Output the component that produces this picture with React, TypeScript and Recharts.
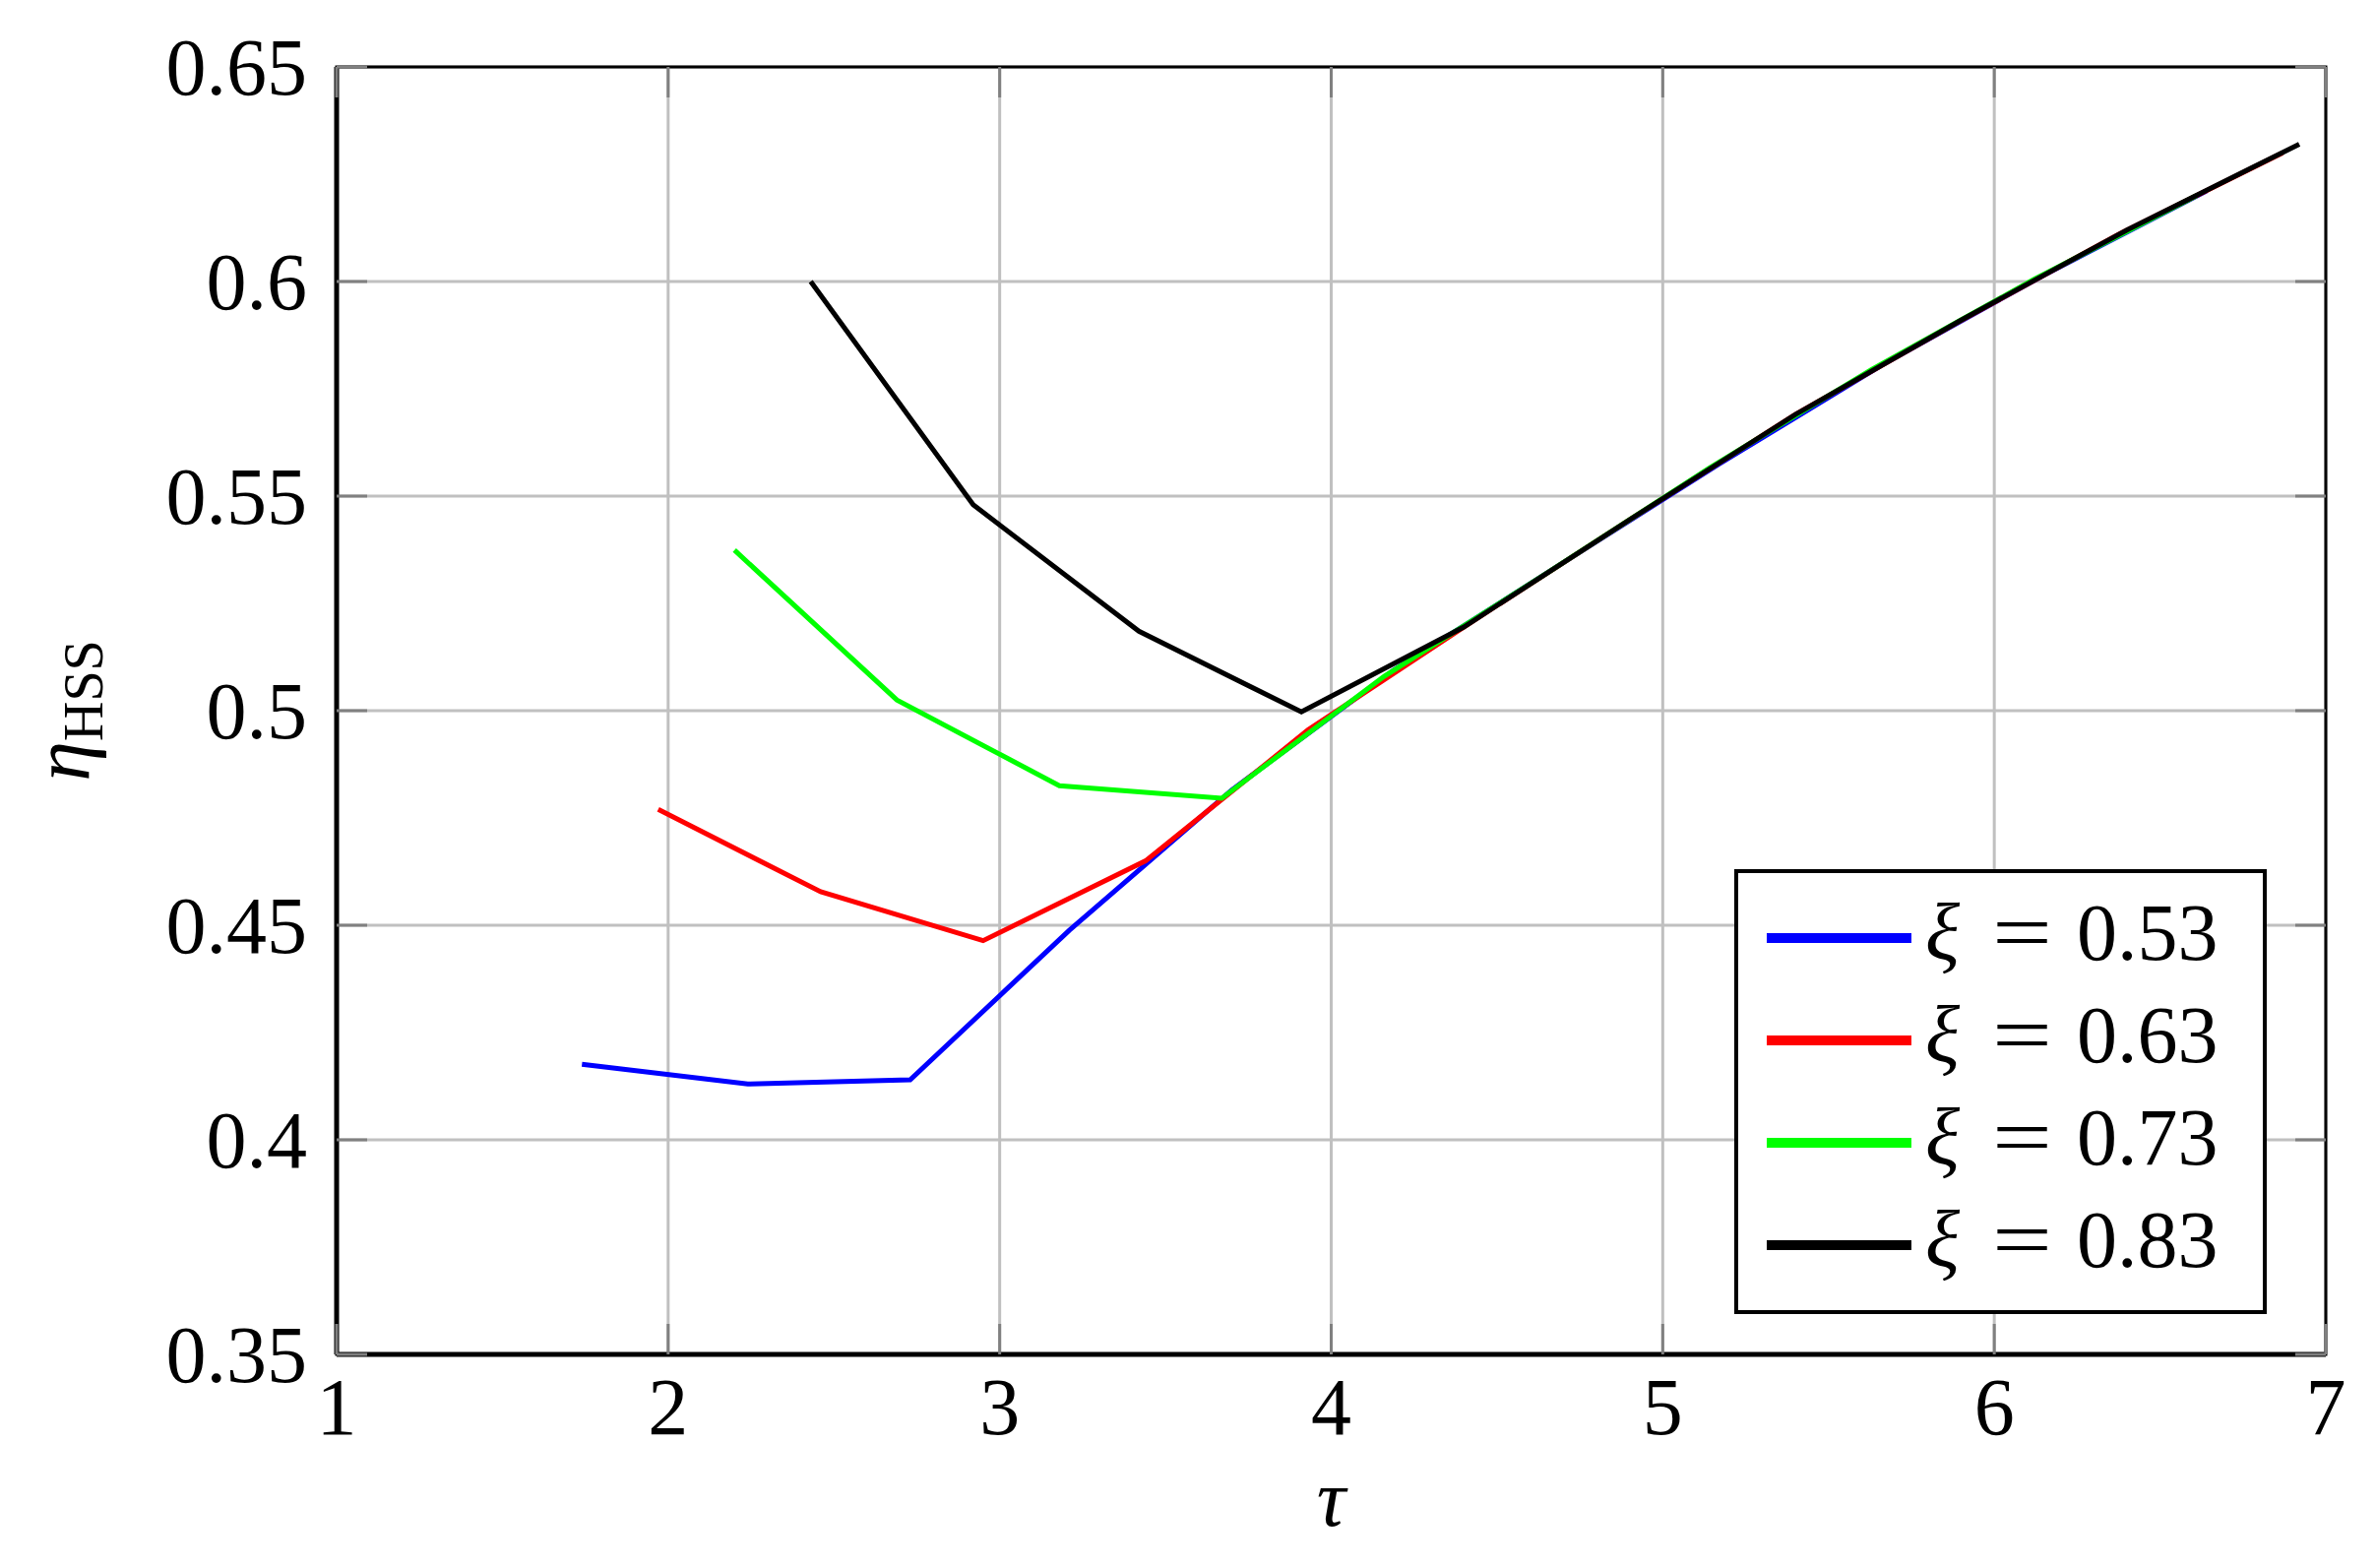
import React from 'react';
import { LineChart, Line, XAxis, YAxis, CartesianGrid, ReferenceArea, Legend } from 'recharts';

// tau (x) and eta_HSS (y), one pair of arrays per xi
const blueTau = [1.74, 2.24, 2.73, 3.21, 3.70, 4.19, 4.68, 5.17, 5.66, 6.15, 6.64];
const blueEta = [0.4176, 0.413, 0.414, 0.4488, 0.4815, 0.5095, 0.5335, 0.5575, 0.5805, 0.6015, 0.6211];

const redTau = [1.97, 2.46, 2.95, 3.44, 3.93, 4.42, 4.91, 5.40, 5.89, 6.38, 6.87];
const redEta = [0.477, 0.4578, 0.4464, 0.465, 0.4955, 0.5205, 0.545, 0.569, 0.5905, 0.6112, 0.6300];

const greenTau = [2.20, 2.69, 3.18, 3.67, 4.16, 4.65, 5.14, 5.63, 6.12, 6.61];
const greenEta = [0.5374, 0.5025, 0.4825, 0.4796, 0.508, 0.532, 0.5565, 0.5795, 0.6005, 0.6200];

const blackTau = [2.43, 2.92, 3.42, 3.91, 4.40, 4.90, 5.40, 5.90, 6.40, 6.92];
const blackEta = [0.6, 0.548, 0.5185, 0.4997, 0.5195, 0.5445, 0.569, 0.591, 0.612, 0.632];

const xTicks = [1, 2, 3, 4, 5, 6, 7];
const yTicks = [0.35, 0.4, 0.45, 0.5, 0.55, 0.6, 0.65];

const seriesNames = ['0.53', '0.63', '0.73', '0.83'];
const seriesColors = ['#0000ff', '#ff0000', '#00ff00', '#000000'];

const toPoints = (xs: number[], ys: number[]) => xs.map((x, i) => ({ x, y: ys[i] }));
const series = [
    toPoints(blueTau, blueEta),
    toPoints(redTau, redEta),
    toPoints(greenTau, greenEta),
    toPoints(blackTau, blackEta),
];

const W = 2414;
const H = 1593;
const PLOT_LEFT = 342;
const PLOT_RIGHT = 2363;
const PLOT_TOP = 68;
const PLOT_BOTTOM = 1376;
const TICK_IN = 31;
const FONT = '"Liberation Serif", "Times New Roman", serif';
const FS = 82;

const fmt = (v: number) => String(Number(v.toFixed(2)));

function XTick(props: any) {
    const { x, y, payload } = props;
    return (
        <g>
            <line x1={x} y1={PLOT_BOTTOM} x2={x} y2={PLOT_BOTTOM - TICK_IN} stroke="#808080" strokeWidth={3} />
            <line x1={x} y1={PLOT_TOP} x2={x} y2={PLOT_TOP + TICK_IN} stroke="#808080" strokeWidth={3} />
            <text x={x} y={y + 81} textAnchor="middle" fontFamily={FONT} fontSize={FS} fill="#000">
                {fmt(payload.value)}
            </text>
        </g>
    );
}

function YTick(props: any) {
    const { x, y, payload } = props;
    return (
        <g>
            <line x1={PLOT_LEFT} y1={y} x2={PLOT_LEFT + TICK_IN} y2={y} stroke="#808080" strokeWidth={3} />
            <line x1={PLOT_RIGHT} y1={y} x2={PLOT_RIGHT - TICK_IN} y2={y} stroke="#808080" strokeWidth={3} />
            <text x={x - 30} y={y + 28} textAnchor="end" fontFamily={FONT} fontSize={FS} fill="#000">
                {fmt(payload.value)}
            </text>
        </g>
    );
}

function XTitle(props: any) {
    const { viewBox } = props;
    return (
        <text x={viewBox.x + viewBox.width / 2} y={viewBox.y + 174} textAnchor="middle"
            fontFamily={FONT} fontSize={FS} fontStyle="italic" fill="#000">
            τ
        </text>
    );
}

function YTitle() {
    const cx = 90;
    const cy = 722;
    return (
        <text x={cx} y={cy} textAnchor="middle" transform={`rotate(-90 ${cx} ${cy})`}
            fontFamily={FONT} fontSize={FS} fill="#000">
            <tspan fontStyle="italic">η</tspan>
            <tspan fontSize={56} dy={14}>HSS</tspan>
        </text>
    );
}

function LegendBox() {
    const rowY = [70, 174, 278, 382];
    return (
        <svg width={541} height={452} style={{ display: 'block' }}>
            <rect x={2} y={2} width={537} height={448} fill="#fff" stroke="#000" strokeWidth={4} />
            {seriesNames.map((name, i) => (
                <g key={name}>
                    <line x1={33} y1={rowY[i]} x2={180} y2={rowY[i]} stroke={seriesColors[i]} strokeWidth={10} />
                    <text x={194} y={rowY[i] + 22} fontFamily={FONT} fontSize={FS} fontStyle="italic" fill="#000">ξ</text>
                    <text x={262} y={rowY[i] + 22} fontFamily={FONT} fontSize={FS} fill="#000"
                        textLength={61} lengthAdjust="spacingAndGlyphs">=</text>
                    <text x={348} y={rowY[i] + 22} fontFamily={FONT} fontSize={FS} fill="#000">{name}</text>
                </g>
            ))}
        </svg>
    );
}

export default function App() {
    return (
        <div style={{ position: 'absolute', left: 0, top: 0, width: W, height: H, background: '#fff' }}>
            <LineChart width={W} height={H} margin={{ top: PLOT_TOP, right: W - PLOT_RIGHT, bottom: H - PLOT_BOTTOM - 100, left: PLOT_LEFT - 100 }}>
                <CartesianGrid stroke="#c0c0c0" strokeWidth={3} />
                <XAxis
                    type="number"
                    dataKey="x"
                    domain={[1, 7]}
                    ticks={xTicks}
                    allowDataOverflow
                    height={100}
                    tickSize={0}
                    tickMargin={0}
                    tickLine={false}
                    axisLine={{ stroke: '#000', strokeWidth: 5 }}
                    tick={<XTick />}
                    label={<XTitle />}
                />
                <YAxis
                    type="number"
                    dataKey="y"
                    domain={[0.35, 0.65]}
                    ticks={yTicks}
                    allowDataOverflow
                    width={100}
                    tickSize={0}
                    tickMargin={0}
                    tickLine={false}
                    axisLine={{ stroke: '#000', strokeWidth: 5 }}
                    tick={<YTick />}
                    label={<YTitle />}
                />
                {series.map((pts, i) => (
                    <Line
                        key={seriesNames[i]}
                        data={pts}
                        dataKey="y"
                        name={`ξ = ${seriesNames[i]}`}
                        type="linear"
                        stroke={seriesColors[i]}
                        strokeWidth={5}
                        dot={false}
                        isAnimationActive={false}
                    />
                ))}
                <ReferenceArea x1={1} x2={7} y1={0.35} y2={0.65} fill="none" stroke="#000" strokeWidth={3} ifOverflow="visible" />
                <Legend
                    layout="horizontal"
                    verticalAlign="middle"
                    align="center"
                    content={<LegendBox />}
                    wrapperStyle={{ left: 1762, top: 883, width: 541, height: 452 }}
                />
            </LineChart>
        </div>
    );
}
